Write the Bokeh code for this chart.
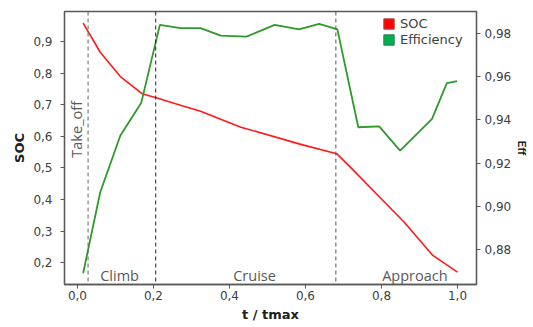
import math
from bokeh.plotting import figure
from bokeh.models import (Range1d, LinearAxis, FixedTicker, Span, Label, Legend, LegendItem)
from bokeh.embed import file_html
from bokeh.resources import INLINE

# ---- data ----
t_soc = [0.015, 0.06, 0.113, 0.17, 0.207, 0.271, 0.324, 0.43, 0.583, 0.682, 0.72, 0.798, 0.86, 0.935, 1.0]
soc = [0.958, 0.866, 0.789, 0.735, 0.722, 0.698, 0.679, 0.629, 0.576, 0.545, 0.50, 0.404, 0.328, 0.223, 0.17]

t_eff = [0.015, 0.06, 0.113, 0.168, 0.217, 0.271, 0.324, 0.377, 0.445, 0.519, 0.583, 0.636, 0.684,
         0.739, 0.794, 0.849, 0.933, 0.972, 0.999]
eff = [0.869, 0.9065, 0.9328, 0.948, 0.984, 0.9825, 0.9825, 0.979, 0.9786, 0.984, 0.9819, 0.9845, 0.9819,
       0.9366, 0.937, 0.9258, 0.9405, 0.957, 0.958]

phase_bounds = [0.028, 0.206, 0.68]
phase_names = ["Take_off", "Climb", "Cruise", "Approach"]

x_ticks = [0.0, 0.2, 0.4, 0.6, 0.8, 1.0]
x_tick_labels = ["0,0", "0,2", "0,4", "0,6", "0,8", "1,0"]
soc_ticks = [0.2, 0.3, 0.4, 0.5, 0.6, 0.7, 0.8, 0.9]
soc_tick_labels = ["0,2", "0,3", "0,4", "0,5", "0,6", "0,7", "0,8", "0,9"]
eff_ticks = [0.88, 0.90, 0.92, 0.94, 0.96, 0.98]
eff_tick_labels = ["0,88", "0,90", "0,92", "0,94", "0,96", "0,98"]

series_names = ["SOC", "Efficiency"]
RED = "#ff1a1a"
GREEN = "#2f9a2a"
TXT = "#404040"
AX = "#595959"
NAN = float("nan")

p = figure(frame_width=412, frame_height=273, output_backend="svg", toolbar_location=None,
           x_range=Range1d(-0.034, 1.05), y_range=Range1d(0.131, 0.995),
           min_border_left=64, min_border_right=5, min_border_top=11, min_border_bottom=10)
p.extra_y_ranges = {"eff": Range1d(0.8638, 0.9902)}
p.grid.visible = False
p.outline_line_color = AX
p.outline_line_width = 1.3

def style_axis(ax, ticks, labels):
    ax.ticker = FixedTicker(ticks=ticks)
    ax.major_label_overrides = {t: l for t, l in zip(ticks, labels)}
    ax.minor_tick_line_color = None
    ax.major_tick_in = 0
    ax.major_tick_out = 4
    ax.axis_line_color = AX
    ax.axis_line_width = 1.3
    ax.major_tick_line_color = AX
    ax.major_label_text_font = "DejaVu Sans"
    ax.major_label_text_font_size = "12px"
    ax.major_label_text_color = TXT
    ax.axis_label_text_font = "DejaVu Sans"
    ax.axis_label_text_font_style = "bold"
    ax.axis_label_text_font_size = "13px"
    ax.axis_label_text_color = "#202020"

xa = p.xaxis[0]
style_axis(xa, x_ticks, x_tick_labels)
xa.axis_label = "t / tmax"
xa.major_label_standoff = 2
xa.axis_label_standoff = 4

ya = p.yaxis[0]
style_axis(ya, soc_ticks, soc_tick_labels)
ya.axis_label = "SOC"
ya.major_label_standoff = 8
ya.axis_label_standoff = 3

ra = LinearAxis(y_range_name="eff")
style_axis(ra, eff_ticks, eff_tick_labels)
ra.axis_label = "Eff"
ra.axis_label_text_font = "Lato"
ra.axis_label_text_font_size = "12px"
ra.major_label_standoff = 4
ra.axis_label_standoff = 1
p.add_layout(ra, "right")

# phase boundaries
for b, c in zip(phase_bounds, ["#666666", "#222222", "#555555"]):
    p.add_layout(Span(location=b, dimension="height", line_color=c, line_dash="4 3", line_width=1))

p.line(t_soc, soc, line_color=RED, line_width=1.6)
p.line(t_eff, eff, line_color=GREEN, line_width=1.8, y_range_name="eff")

# phase labels
lab_kw = dict(text_font="Open Sans", text_font_size="14.5px", text_color="#595959")
p.add_layout(Label(x=0.022, y=0.622, text=phase_names[0], angle=math.pi / 2,
                   text_align="center", text_baseline="bottom", **lab_kw))
p.add_layout(Label(x=0.111, y=0.160, text=phase_names[1], text_align="center",
                   text_baseline="middle", **lab_kw))
p.add_layout(Label(x=0.466, y=0.160, text=phase_names[2], text_align="center",
                   text_baseline="middle", **lab_kw))
p.add_layout(Label(x=0.888, y=0.160, text=phase_names[3], text_align="center",
                   text_baseline="middle", **lab_kw))

# legend with square swatches (swatch renderers draw nothing in the plot)
r_soc = p.quad(top=[NAN], bottom=[NAN], left=[NAN], right=[NAN], fill_color="#ff0000", line_color="#a05050")
r_eff = p.quad(top=[NAN], bottom=[NAN], left=[NAN], right=[NAN], fill_color="#00b050", line_color="#3a7a50")
leg_kw = dict(orientation="vertical", glyph_width=13, glyph_height=13, label_height=13,
              padding=0, margin=0, label_standoff=5,
              label_text_font="DejaVu Sans", label_text_font_size="13px",
              label_text_color=TXT, border_line_color=None, background_fill_alpha=0)
p.add_layout(Legend(items=[LegendItem(label=series_names[0], renderers=[r_soc])],
                    location=(318, 253), **leg_kw))
p.add_layout(Legend(items=[LegendItem(label=series_names[1], renderers=[r_eff])],
                    location=(318, 237), **leg_kw))

open("out.html", "w").write(file_html(p, INLINE))
